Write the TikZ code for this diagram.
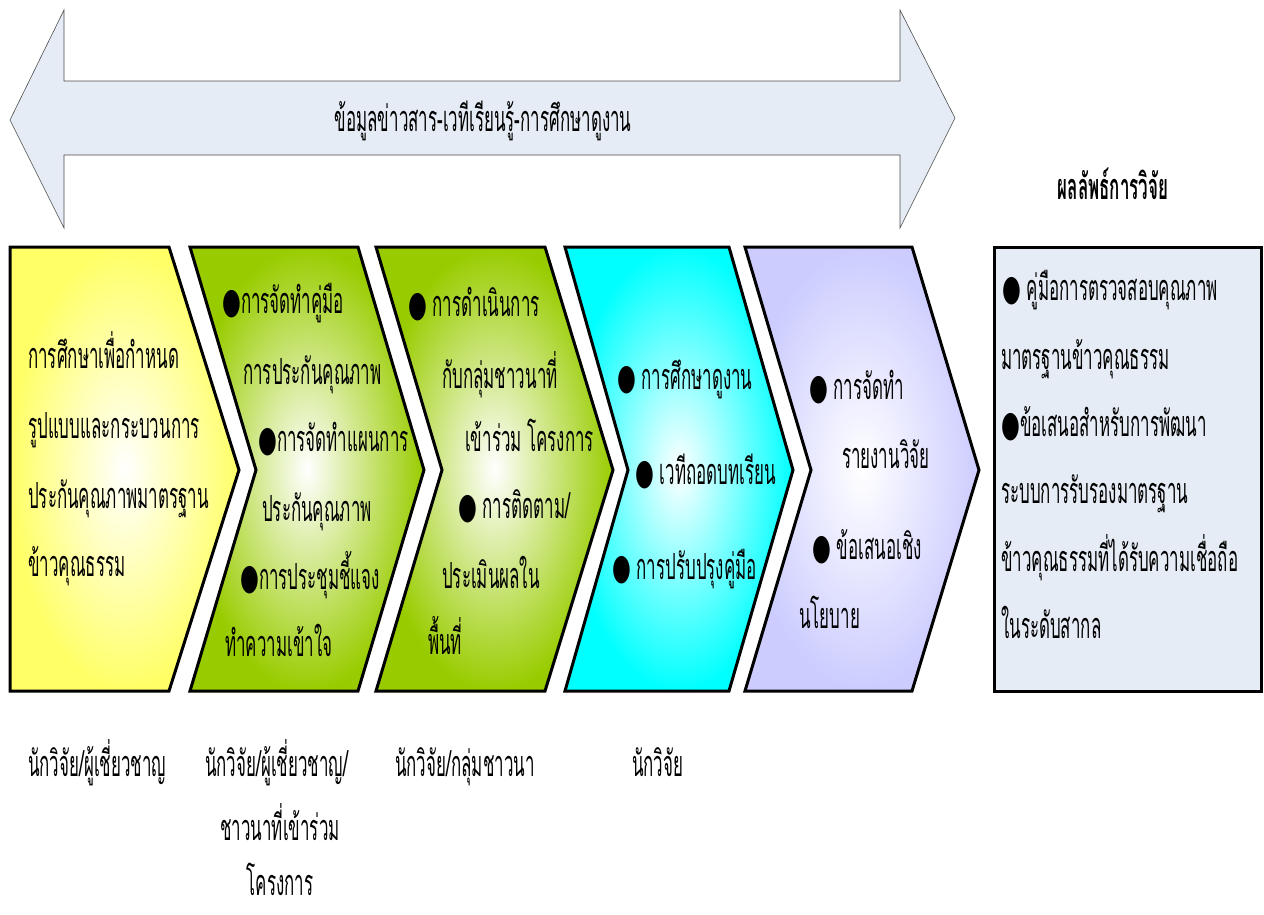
\documentclass[tikz,border=0pt]{standalone}
\usepackage{fontspec}
\newfontfamily\thaifont[Script=Thai,FakeStretch=0.47]{Loma}
\newfontfamily\symfont[FakeStretch=0.6]{DejaVu Sans}
\newcommand\blt{{\symfont ●}}
\newcommand\thsize{\thaifont\fontsize{36}{36}\selectfont}
\definecolor{arrowfill}{HTML}{E6ECF5}
\definecolor{chevyellow}{HTML}{FFFF66}
\definecolor{chevgreen}{HTML}{99CC00}
\definecolor{chevcyan}{HTML}{00FFFF}
\definecolor{chevlilac}{HTML}{CCCCFF}
\tikzset{
  chev/.style={draw=black, line width=3pt, line join=miter, shading=radial, inner color=white, outer color=#1},
  txt/.style={anchor=base west, inner sep=0pt, font=\thsize},
  ctxt/.style={anchor=base, inner sep=0pt, font=\thsize}
}
\begin{document}
\begin{tikzpicture}[x=1pt,y=-1pt]
    \useasboundingbox (0,0) rectangle (1264,914);

    % double arrow on top
    \draw[draw=black!70, fill=arrowfill, line width=0.6pt]
        (10,120) -- (64,10) -- (64,81) -- (900,81) -- (900,10) -- (955,118)
        -- (900,228) -- (900,155) -- (64,155) -- (64,228) -- cycle;
    \node[ctxt] (info) at (483,131) {ข้อมูลข่าวสาร-เวทีเรียนรู้-การศึกษาดูงาน};

    % chevrons
    \path[chev=chevyellow] (10,247) -- (169,247) -- (239,470) -- (169,691) -- (10,691) -- cycle;
    \path[chev=chevgreen] (190,247) -- (358,247) -- (424,470) -- (358,691) -- (190,691) -- (256,470) -- cycle;
    \path[chev=chevgreen] (376,247) -- (545,247) -- (613,470) -- (545,691) -- (376,691) -- (442,470) -- cycle;
    \path[chev=chevcyan] (565,247) -- (729,247) -- (793,470) -- (729,691) -- (565,691) -- (628,470) -- cycle;
    \path[chev=chevlilac] (745,247) -- (912,247) -- (979,470) -- (912,691) -- (745,691) -- (811,470) -- cycle;

    % result box
    \draw[fill=arrowfill, line width=3pt] (994,247) rectangle (1261,691);
    \node[ctxt, font=\thsize\bfseries] (restitle) at (1113,199) {ผลลัพธ์การวิจัย};

    % step 1
    \node[txt] (s1a) at (28,368) {การศึกษาเพื่อกำหนด};
    \node[txt] (s1b) at (28,438) {รูปแบบและกระบวนการ};
    \node[txt] (s1c) at (28,508) {ประกันคุณภาพมาตรฐาน};
    \node[txt] (s1d) at (28,576) {ข้าวคุณธรรม};

    % step 2
    \node[txt] (s2a) at (222,313) {\blt การจัดทำคู่มือ};
    \node[txt] (s2b) at (243,384) {การประกันคุณภาพ};
    \node[txt] (s2c) at (258,451) {\blt การจัดทำแผนการ};
    \node[txt] (s2d) at (262,521) {ประกันคุณภาพ};
    \node[txt] (s2e) at (240,589) {\blt การประชุมชี้แจง};
    \node[txt] (s2f) at (225,656) {ทำความเข้าใจ};

    % step 3
    \node[txt] (s3a) at (408,316) {\blt\ การดำเนินการ};
    \node[txt] (s3b) at (442,388) {กับกลุ่มชาวนาที่};
    \node[txt] (s3c) at (465,451) {เข้าร่วม โครงการ};
    \node[txt] (s3d) at (458,518) {\blt\ การติดตาม/};
    \node[txt] (s3e) at (442,588) {ประเมินผลใน};
    \node[txt] (s3f) at (428,654) {พื้นที่};

    % step 4
    \node[txt] (s4a) at (617,389) {\blt\ การศึกษาดูงาน};
    \node[txt] (s4b) at (635,484) {\blt\ เวทีถอดบทเรียน};
    \node[txt] (s4c) at (612,579) {\blt\ การปรับปรุงคู่มือ};

    % step 5
    \node[txt] (s5a) at (809,399) {\blt\ การจัดทำ};
    \node[txt] (s5b) at (842,468) {รายงานวิจัย};
    \node[txt] (s5c) at (812,559) {\blt\ ข้อเสนอเชิง};
    \node[txt] (s5d) at (799,628) {นโยบาย};

    % results
    \node[txt] (r1) at (1002,300) {\blt\ คู่มือการตรวจสอบคุณภาพ};
    \node[txt] (r2) at (1001,369) {มาตรฐานข้าวคุณธรรม};
    \node[txt] (r3) at (1001,436) {\blt ข้อเสนอสำหรับการพัฒนา};
    \node[txt] (r4) at (1001,503) {ระบบการรับรองมาตรฐาน};
    \node[txt] (r5) at (1001,571) {ข้าวคุณธรรมที่ได้รับความเชื่อถือ};
    \node[txt] (r6) at (1001,638) {ในระดับสากล};

    % people
    \node[txt] (p1) at (28,776) {นักวิจัย/ผู้เชี่ยวชาญ};
    \node[txt] (p2) at (205,776) {นักวิจัย/ผู้เชี่ยวชาญ/};
    \node[ctxt] (p2b) at (280,840) {ชาวนาที่เข้าร่วม};
    \node[ctxt] (p2c) at (280,895) {โครงการ};
    \node[txt] (p3) at (395,776) {นักวิจัย/กลุ่มชาวนา};
    \node[txt] (p4) at (632,776) {นักวิจัย};
\end{tikzpicture}
\end{document}
